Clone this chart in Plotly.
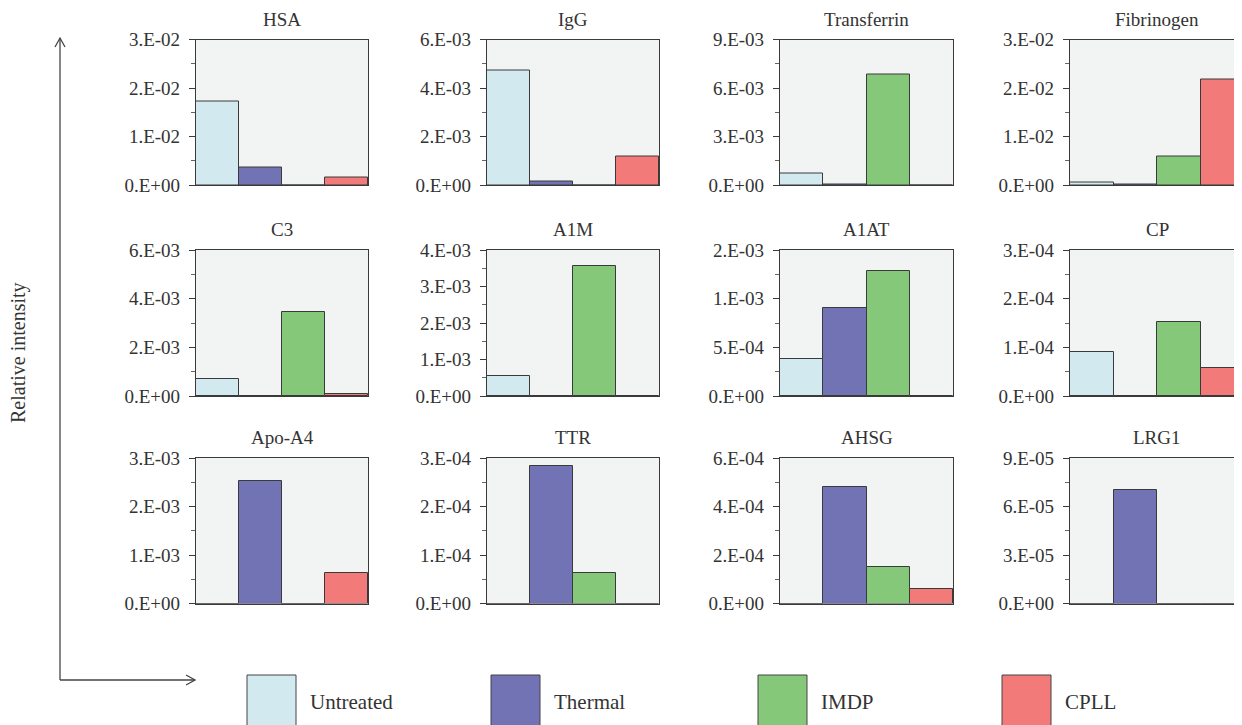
import numpy as np
import plotly.graph_objects as go

W, H = 1242, 725
OFF = 8  # page body margin compensation

panels = ["HSA", "IgG", "Transferrin", "Fibrinogen",
          "C3", "A1M", "A1AT", "CP",
          "Apo-A4", "TTR", "AHSG", "LRG1"]
series = ["Untreated", "Thermal", "IMDP", "CPLL"]
colors = ["#d2e9f0", "#7173b5", "#86c879", "#f27b7a"]

untreated = [0.01723, 0.00473, 0.00074, 0.00056, 0.00069, 0.00054, 0.00038, 0.0000896, 0, 0, 0, 0]
thermal = [0.00356, 0.000164, 0.00002, 0.00005, 0, 0, 0.00090, 0, 0.00253, 0.000283, 0.000481, 0.0000699]
imdp = [0, 0, 0.00684, 0.00586, 0.00347, 0.00355, 0.001286, 0.000153, 0, 0.0000627, 0.000150, 0]
cpll = [0.00165, 0.00119, 0, 0.02172, 0.00008, 0, 0, 0.0000566, 0.00062, 0, 0.0000607, 0]

y_max = [0.03, 0.006, 0.009, 0.03, 0.006, 0.004, 0.0015, 0.0003, 0.003, 0.0003, 0.0006, 0.00009]
tick_labels = [
    ["0.E+00", "1.E-02", "2.E-02", "3.E-02"],
    ["0.E+00", "2.E-03", "4.E-03", "6.E-03"],
    ["0.E+00", "3.E-03", "6.E-03", "9.E-03"],
    ["0.E+00", "1.E-02", "2.E-02", "3.E-02"],
    ["0.E+00", "2.E-03", "4.E-03", "6.E-03"],
    ["0.E+00", "1.E-03", "2.E-03", "3.E-03", "4.E-03"],
    ["0.E+00", "5.E-04", "1.E-03", "2.E-03"],
    ["0.E+00", "1.E-04", "2.E-04", "3.E-04"],
    ["0.E+00", "1.E-03", "2.E-03", "3.E-03"],
    ["0.E+00", "1.E-04", "2.E-04", "3.E-04"],
    ["0.E+00", "2.E-04", "4.E-04", "6.E-04"],
    ["0.E+00", "3.E-05", "6.E-05", "9.E-05"],
]

col_px = [(196, 368), (487, 659), (780, 953), (1070, 1244)]
row_px = [(39.5, 185), (250, 396), (458, 603.5)]

FONT = "Liberation Serif"
TXT = "#333333"
LINE = "#3a3a3a"

def px_x(x):
    return (x - OFF) / W

def px_y(y):
    return 1 - (y - OFF) / H

fig = go.Figure()
layout = {}
annotations = []
shapes = []

data_by_series = [untreated, thermal, imdp, cpll]

for i, name in enumerate(panels):
    r, c = divmod(i, 4)
    k = i + 1
    xa = "x" if k == 1 else f"x{k}"
    ya = "y" if k == 1 else f"y{k}"
    vals = [s[i] for s in data_by_series]
    fig.add_trace(go.Bar(
        x=series, y=vals, xaxis=xa, yaxis=ya,
        marker=dict(color=colors, line=dict(color=LINE, width=1)),
        width=1, showlegend=False, hoverinfo="x+y"))
    x0, x1 = col_px[c]
    y0, y1 = row_px[r]
    n = len(tick_labels[i]) - 1
    tv = list(np.linspace(0, y_max[i], n + 1))
    layout[f"xaxis{k}" if k > 1 else "xaxis"] = dict(
        domain=[px_x(x0), min(px_x(x1), 1.0)], anchor=ya, type="category",
        range=[-0.5, 3.5], showticklabels=False, ticks="", showgrid=False, automargin=False,
        showline=True, linecolor=LINE, linewidth=1.2, mirror=True, zeroline=False, fixedrange=True)
    layout[f"yaxis{k}" if k > 1 else "yaxis"] = dict(
        domain=[px_y(y1), px_y(y0)], anchor=xa, range=[0, y_max[i]], automargin=False,
        tickmode="array", tickvals=tv, ticktext=tick_labels[i],
        ticks="outside", ticklen=6, tickwidth=1, tickcolor=LINE, ticklabelstandoff=5,
        minor=dict(tickmode="array", tickvals=[(tv[j] + tv[j + 1]) / 2 for j in range(n)],
                   ticks="outside", ticklen=4, tickwidth=1, tickcolor="#666666", showgrid=False),
        showgrid=False, zeroline=False, showline=True, linecolor=LINE, linewidth=1.2,
        mirror=True, tickfont=dict(family=FONT, size=19, color=TXT), fixedrange=True)
    annotations.append(dict(
        text=name, x=px_x((x0 + x1) / 2), y=px_y(y0), xref="paper", yref="paper",
        xanchor="center", yanchor="bottom", yshift=8, showarrow=False,
        font=dict(family=FONT, size=19, color=TXT)))

# axis-style arrows (decoration)
ax_x, ax_y = 60, 680
shapes.append(dict(type="line", xref="paper", yref="paper",
                   x0=px_x(ax_x), y0=px_y(ax_y), x1=px_x(ax_x), y1=px_y(38),
                   line=dict(color="#444444", width=1.3)))
shapes.append(dict(type="line", xref="paper", yref="paper",
                   x0=px_x(ax_x), y0=px_y(ax_y), x1=px_x(195), y1=px_y(ax_y),
                   line=dict(color="#444444", width=1.3)))
shapes.append(dict(type="path", xref="paper", yref="paper",
                   path=f"M {px_x(ax_x-5)} {px_y(38+9)} L {px_x(ax_x)} {px_y(38)} L {px_x(ax_x+5)} {px_y(38+9)}",
                   line=dict(color="#444444", width=1.3)))
shapes.append(dict(type="path", xref="paper", yref="paper",
                   path=f"M {px_x(195-9)} {px_y(ax_y-5)} L {px_x(195)} {px_y(ax_y)} L {px_x(195-9)} {px_y(ax_y+5)}",
                   line=dict(color="#444444", width=1.3)))

annotations.append(dict(
    text="Relative intensity", x=px_x(18), y=px_y(353), xref="paper", yref="paper",
    xanchor="center", yanchor="middle", textangle=-90, showarrow=False,
    font=dict(family=FONT, size=20, color=TXT)))

# legend (drawn)
leg_box_x = [247, 491, 758, 1002]
for j, s in enumerate(series):
    bx = leg_box_x[j]
    shapes.append(dict(type="rect", xref="paper", yref="paper",
                       x0=px_x(bx), x1=px_x(bx + 49), y0=px_y(740), y1=px_y(675),
                       fillcolor=colors[j], line=dict(color="#444444", width=1)))
    annotations.append(dict(
        text=s, x=px_x(bx + 61), y=px_y(702), xref="paper", yref="paper",
        xanchor="left", yanchor="middle", showarrow=False,
        font=dict(family=FONT, size=21, color=TXT)))

fig.update_layout(
    width=W, height=H, margin=dict(l=0, r=0, t=0, b=0, pad=0, autoexpand=False),
    paper_bgcolor="white", plot_bgcolor="#f2f3f3",
    bargap=0, showlegend=False,
    annotations=annotations, shapes=shapes, **layout)

fig.write_html("out.html")
